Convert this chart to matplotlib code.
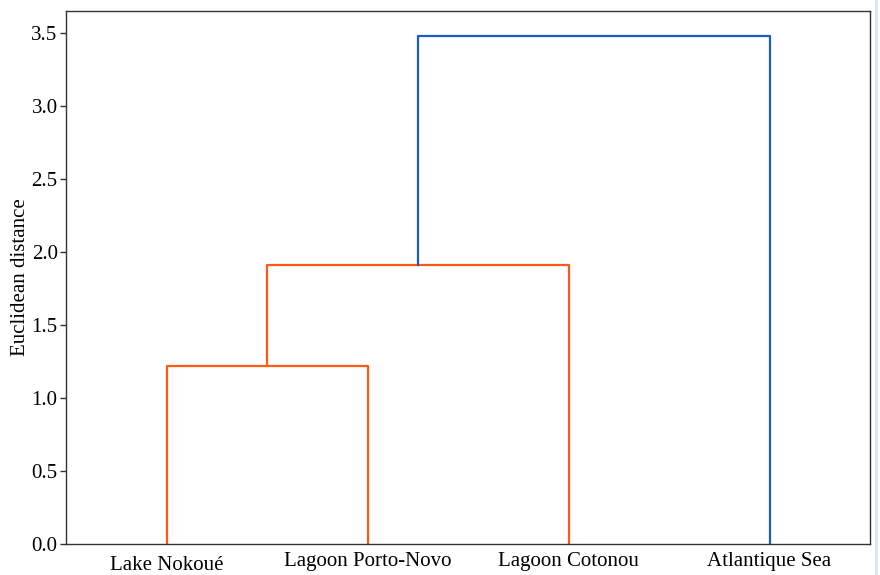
import matplotlib
matplotlib.use("Agg")
import matplotlib.pyplot as plt
import matplotlib.transforms as mtransforms
from matplotlib.lines import Line2D

# sites (leaf order) and merge heights of the hierarchical clustering
sites = ["Lake Nokoué", "Lagoon Porto-Novo", "Lagoon Cotonou", "Atlantique Sea"]
# each merge: (left cluster, right cluster, distance); clusters 0..3 are leaves
merges = [(0, 1, 1.22), (4, 2, 1.91), (5, 3, 3.48)]
merge_colors = ["#FF5A14", "#FF5A14", "#1E5AC8"]
yticks = [0.0, 0.5, 1.0, 1.5, 2.0, 2.5, 3.0, 3.5]

plt.rcParams["font.family"] = ["Liberation Serif", "DejaVu Serif"]

fig = plt.figure(figsize=(8.8, 5.75), dpi=100)
ax = fig.add_axes([66 / 880, 31 / 575, 804 / 880, 533 / 575])

# leaf positions like scipy: 5, 15, 25, ...
pos = {i: 10 * i + 5 for i in range(len(sites))}
height = {i: 0.0 for i in range(len(sites))}
for k, (a, b, d) in enumerate(merges):
    xa, xb = pos[a], pos[b]
    ax.plot([xa, xa, xb, xb], [height[a], d, d, height[b]],
            color=merge_colors[k], linewidth=1.6)
    new = len(sites) + k
    pos[new] = (xa + xb) / 2
    height[new] = d

ax.set_xlim(0, 10 * len(sites))
ax.set_ylim(0, merges[-1][2] * 1.05)
ax.set_xticks([10 * i + 5 for i in range(len(sites))])
ax.set_xticklabels(sites, fontsize=15)
ax.tick_params(axis="x", length=0, pad=6)
# accented label sits a bit lower
lbl = ax.get_xticklabels()[0]
lbl.set_transform(lbl.get_transform() +
                  mtransforms.ScaledTranslation(0, -4 / 100, fig.dpi_scale_trans))
ax.set_yticks(yticks)
ax.set_yticklabels([f"{v:.1f}" for v in yticks], fontsize=15)
ax.tick_params(axis="y", length=4, width=1, color="#333333", pad=2)
ax.set_ylabel("Euclidean distance", fontsize=15, labelpad=1)
for s in ax.spines.values():
    s.set_color("#333333")
    s.set_linewidth(1.0)

# faint strip on the right edge
fig.add_artist(Line2D([876 / 880, 876 / 880], [0, 1], transform=fig.transFigure,
                      color="#dbe4f2", linewidth=2))

fig.savefig("out.png", dpi=100)
